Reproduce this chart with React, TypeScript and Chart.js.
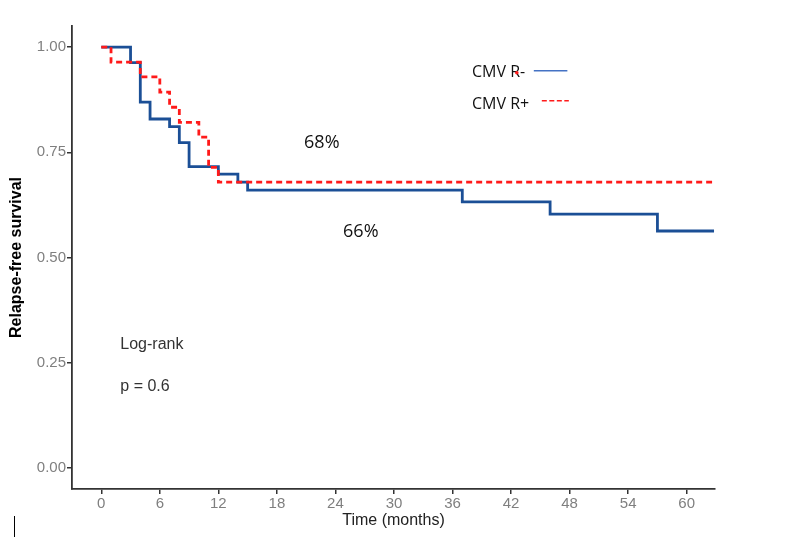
import React, { useEffect, useRef } from "react";
import { Chart, registerables } from "chart.js";

Chart.register(...registerables);

// Kaplan-Meier step data (months, survival)
const blueTimes = [0, 3, 4, 5, 7, 8, 9, 12, 14, 15, 37, 46, 57, 62.8];
const blueSurv = [1.0, 0.963, 0.869, 0.829, 0.811, 0.773, 0.716, 0.698, 0.679, 0.66, 0.632, 0.603, 0.563, 0.563];
const redTimes = [0, 1, 4, 6, 7, 8, 10, 11, 12, 62.6];
const redSurv = [1.0, 0.964, 0.929, 0.893, 0.857, 0.821, 0.786, 0.714, 0.679, 0.679];

const xTicks = [0, 6, 12, 18, 24, 30, 36, 42, 48, 54, 60];
const yTicks = [0, 0.25, 0.5, 0.75, 1.0];

const seriesNames = ["CMV R-", "CMV R+"];
const seriesColors = ["#1b4f96", "#ff1a1a"];
const legendLineColors = ["#4472c4", "#ff1a1a"];

// annotation texts: [text, x(month), y(survival baseline), font, align]
const annotations: [string, number, number, string, string][] = [
  ["68%", 22.6, 0.7595, "18px 'Open Sans'", "center"],
  ["66%", 26.6, 0.548, "18px 'Open Sans'", "center"],
  ["Log-rank", 1.95, 0.282, "16px 'Liberation Sans'", "left"],
  ["p = 0.6", 1.95, 0.1836, "16px 'Liberation Sans'", "left"],
];

const toPts = (t: number[], s: number[]) => t.map((x, i) => ({ x, y: s[i] }));

const overlayPlugin = {
  id: "overlay",
  afterDraw(chart: any) {
    const ctx = chart.ctx;
    const xs = chart.scales.x;
    const ys = chart.scales.y;
    ctx.save();
    ctx.textBaseline = "alphabetic";
    for (const [txt, x, y, font, align] of annotations) {
      ctx.font = font;
      ctx.textAlign = align as CanvasTextAlign;
      ctx.fillStyle = align === "left" ? "#333" : "#111";
      ctx.fillText(txt, xs.getPixelForValue(x), ys.getPixelForValue(y));
    }
    // manual legend
    ctx.font = "16px 'Open Sans'";
    ctx.textAlign = "left";
    ctx.fillStyle = "#111";
    const lx = xs.getPixelForValue(38);
    ctx.fillText(seriesNames[0], lx, ys.getPixelForValue(0.928));
    ctx.fillText(seriesNames[1], lx, ys.getPixelForValue(0.852));
    ctx.lineWidth = 1.5;
    ctx.strokeStyle = legendLineColors[0];
    ctx.beginPath();
    ctx.moveTo(xs.getPixelForValue(44.33), ys.getPixelForValue(0.9437));
    ctx.lineTo(xs.getPixelForValue(47.77), ys.getPixelForValue(0.9437));
    ctx.stroke();
    ctx.strokeStyle = legendLineColors[1];
    ctx.setLineDash([5, 2.5]);
    ctx.beginPath();
    ctx.moveTo(xs.getPixelForValue(45.15), ys.getPixelForValue(0.8724));
    ctx.lineTo(xs.getPixelForValue(47.92), ys.getPixelForValue(0.8724));
    ctx.stroke();
    ctx.setLineDash([]);
    ctx.fillStyle = legendLineColors[1];
    ctx.beginPath();
    ctx.arc(xs.getPixelForValue(42.59), ys.getPixelForValue(0.939), 1.8, 0, Math.PI * 2);
    ctx.fill();
    // cursor artifact
    ctx.strokeStyle = "#000";
    ctx.lineWidth = 1;
    ctx.beginPath();
    ctx.moveTo(14.5, 516);
    ctx.lineTo(14.5, 537);
    ctx.stroke();
    ctx.restore();
  },
};

export default function App() {
  const ref = useRef<HTMLCanvasElement>(null);
  useEffect(() => {
    document.body.style.margin = "0";
    const chart = new Chart(ref.current!, {
      type: "line",
      data: {
        datasets: [
          {
            label: seriesNames[0],
            data: toPts(blueTimes, blueSurv),
            borderColor: seriesColors[0],
            borderWidth: 2.8,
            stepped: "before",
            pointRadius: 0,
            fill: false,
            order: 2,
          },
          {
            label: seriesNames[1],
            data: toPts(redTimes, redSurv),
            borderColor: seriesColors[1],
            borderWidth: 2.8,
            borderDash: [6, 4],
            stepped: "before",
            pointRadius: 0,
            fill: false,
            order: 1,
          },
        ],
      },
      options: {
        responsive: false,
        animation: false,
        layout: { padding: { left: 0, top: 26, right: 93, bottom: 0 } },
        plugins: { legend: { display: false }, tooltip: { enabled: false } },
        scales: {
          x: {
            type: "linear",
            min: -3,
            max: 62.9,
            afterBuildTicks: (s: any) => {
              s.ticks = xTicks.map((v) => ({ value: v }));
            },
            afterFit: (s: any) => {
              s.height = 49;
            },
            grid: { drawOnChartArea: false, drawTicks: true, tickLength: 5, color: "#333", lineWidth: 1.5 },
            border: { display: true, color: "#333", width: 1.8 },
            ticks: { color: "#7f7f7f", font: { family: "'Liberation Sans'", size: 15 }, padding: 1, maxRotation: 0 },
            title: {
              display: true,
              text: "Time (months)",
              color: "#222",
              font: { family: "'Liberation Sans'", size: 16 },
              padding: { top: 0, bottom: 8 },
            },
          },
          y: {
            type: "linear",
            min: -0.05,
            max: 1.05,
            afterBuildTicks: (s: any) => {
              s.ticks = yTicks.map((v) => ({ value: v }));
            },
            afterFit: (s: any) => {
              s.width = 72;
            },
            grid: { drawOnChartArea: false, drawTicks: true, tickLength: 5, color: "#333", lineWidth: 1.5 },
            border: { display: true, color: "#333", width: 1.8 },
            ticks: {
              color: "#7f7f7f",
              font: { family: "'Liberation Sans'", size: 15 },
              padding: 1,
              callback: (v: any) => Number(v).toFixed(2),
            },
            title: {
              display: true,
              text: "Relapse-free survival",
              color: "#000",
              font: { family: "'Liberation Sans'", size: 16, weight: "bold" },
              padding: { top: 7, bottom: 0 },
            },
          },
        },
      },
      plugins: [overlayPlugin],
    });
    return () => chart.destroy();
  }, []);
  return (
    <div style={{ width: 808, height: 538, background: "#fff" }}>
      <canvas ref={ref} width={808} height={538} />
    </div>
  );
}
